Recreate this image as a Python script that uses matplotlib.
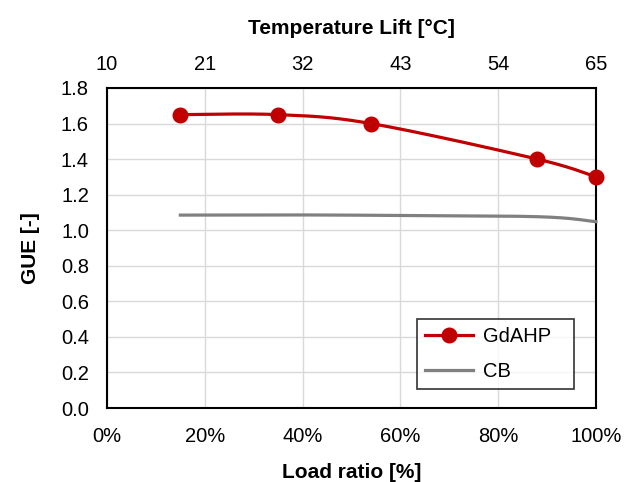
import numpy as np
import matplotlib
matplotlib.use("Agg")
import matplotlib.pyplot as plt
from matplotlib.ticker import FuncFormatter

plt.rcParams['font.family'] = ['Liberation Sans', 'DejaVu Sans']

load_ratio = [15, 35, 54, 88, 100]
gue_gdahp = [1.65, 1.65, 1.60, 1.40, 1.30]
gue_cb = [1.085, 1.086, 1.084, 1.076, 1.048]
x_ticks = [0, 20, 40, 60, 80, 100]
temp_lift_labels = ['10', '21', '32', '43', '54', '65']
y_ticks = [0.0, 0.2, 0.4, 0.6, 0.8, 1.0, 1.2, 1.4, 1.6, 1.8]


def excel_smooth(x, y, n=40):
    x = np.asarray(x, float)
    y = np.asarray(y, float)
    px = np.concatenate([[x[0]], x, [x[-1]]])
    py = np.concatenate([[y[0]], y, [y[-1]]])
    xs, ys = [], []
    for i in range(1, len(px) - 2):
        p0 = np.array([px[i], py[i]])
        p3 = np.array([px[i + 1], py[i + 1]])
        c1 = p0 + (p3 - np.array([px[i - 1], py[i - 1]])) / 6.0
        c2 = p3 - (np.array([px[i + 2], py[i + 2]]) - p0) / 6.0
        t = np.linspace(0, 1, n)[:, None]
        b = ((1 - t) ** 3) * p0 + 3 * ((1 - t) ** 2) * t * c1 + 3 * (1 - t) * t ** 2 * c2 + t ** 3 * p3
        xs.append(b[:, 0])
        ys.append(b[:, 1])
    return np.concatenate(xs), np.concatenate(ys)


fig = plt.figure(figsize=(6.24, 4.82), dpi=100)
ax = fig.add_axes([0.1715, 0.1535, 0.7835, 0.664])

sx, sy = excel_smooth(load_ratio, gue_gdahp)
ax.plot(sx, sy, color='#C00000', lw=2.3, zorder=3, clip_on=False)
ax.plot(load_ratio, gue_gdahp, 'o', color='#C00000', ms=10.5, zorder=4, clip_on=False)
cx, cy = excel_smooth(load_ratio, gue_cb)
ax.plot(cx, cy, color='#808080', lw=2.3, zorder=3, clip_on=False)

# legend proxies
ax.plot([], [], color='#C00000', lw=2.3, marker='o', ms=10.5, label='GdAHP')
ax.plot([], [], color='#808080', lw=2.3, label='CB')

ax.set_xlim(0, 100)
ax.set_ylim(0, 1.8)
ax.set_xticks(x_ticks)
ax.set_yticks(y_ticks)
ax.xaxis.set_major_formatter(FuncFormatter(lambda v, p: f'{int(round(v))}%'))
ax.yaxis.set_major_formatter(FuncFormatter(lambda v, p: f'{v:.1f}'))
ax.grid(True, color='#D9D9D9', lw=1.0)
ax.set_axisbelow(True)
ax.tick_params(axis='x', length=0, labelsize=14.5, pad=14)
ax.tick_params(axis='y', length=0, labelsize=14.5, pad=13)
for s in ax.spines.values():
    s.set_color('black')
    s.set_linewidth(1.5)

ax.set_xlabel('Load ratio [%]', fontsize=15, fontweight='bold', labelpad=12)
ax.set_ylabel('GUE [-]', fontsize=15, fontweight='bold', labelpad=15)

ax2 = ax.twiny()
ax2.set_xlim(0, 100)
ax2.set_xticks(x_ticks)
ax2.set_xticklabels(temp_lift_labels)
ax2.tick_params(length=0, labelsize=14.5, pad=10)
ax2.set_xlabel('Temperature Lift [°C]', fontsize=15, fontweight='bold', labelpad=15)
for s in ax2.spines.values():
    s.set_visible(False)

h, l = ax.get_legend_handles_labels()
leg = ax.legend(h[-2:], l[-2:], loc='lower left', bbox_to_anchor=(0.634, 0.059, 0.321, 0.241),
                mode='expand', fontsize=14.5, frameon=True, fancybox=False, edgecolor='black',
                handlelength=2.4, handletextpad=0.5, borderaxespad=0, labelspacing=0.8)
leg.get_frame().set_linewidth(1.2)

fig.savefig('out.png', dpi=100)
